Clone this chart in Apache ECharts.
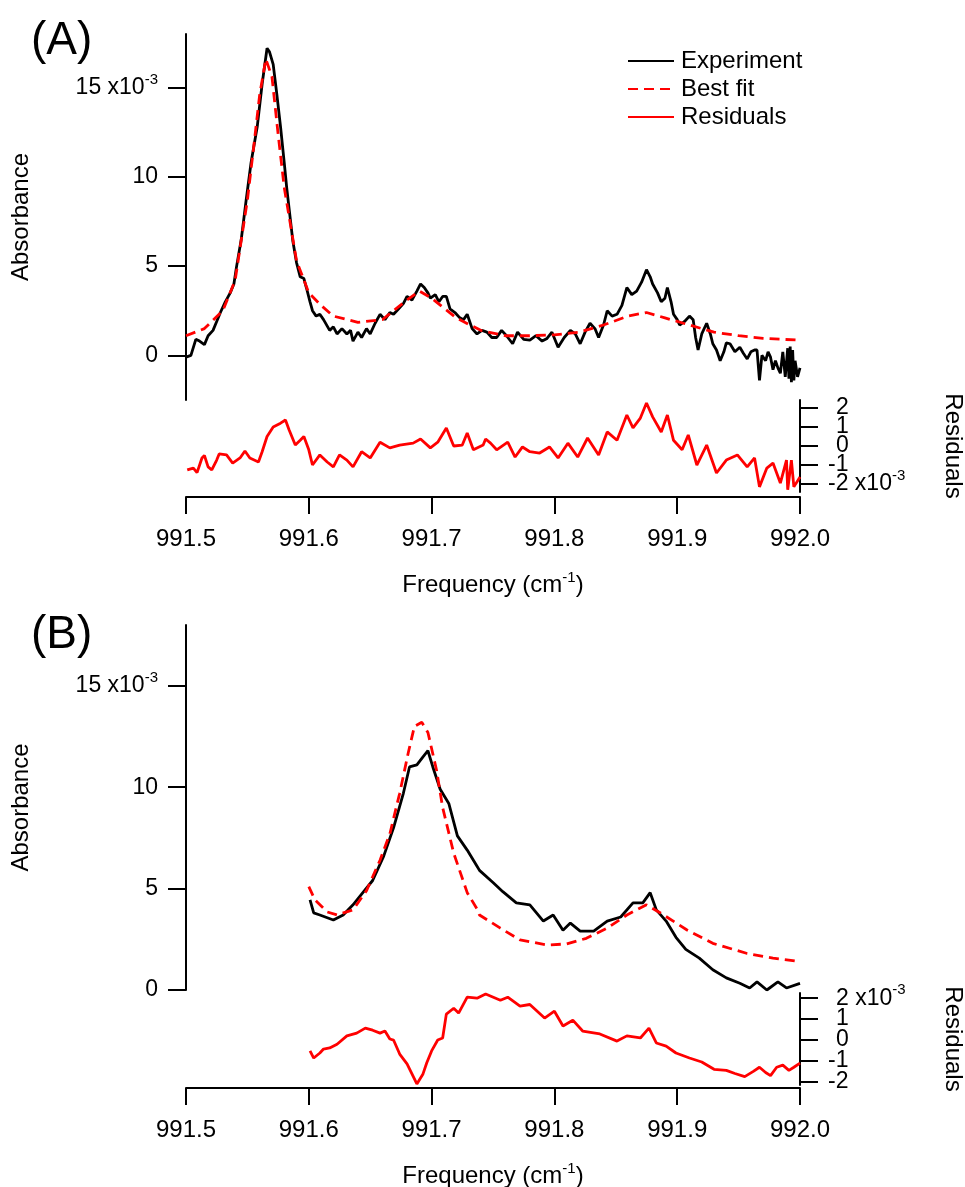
<!DOCTYPE html>
<html><head><meta charset="utf-8">
<script src="https://cdn.jsdelivr.net/npm/echarts@6/dist/echarts.min.js"></script>
<style>html,body{margin:0;padding:0;background:#fff}#c{width:965px;height:1187px}</style>
</head><body><div id="c"></div>
<script>
// ---------------- DATA ----------------
const absTicks = [0, 5, 10, 15];          // x10^-3
const resTicks = [-2, -1, 0, 1, 2];       // x10^-3
const legendNames = ['Experiment', 'Best fit', 'Residuals'];

// Panel A — experiment
const freqA_exp = [991.500,991.504,991.508,991.511,991.515,991.518,991.522,991.525,991.528,991.532,991.536,991.539,991.541,991.545,991.549,991.553,991.558,991.562,991.566,991.568,991.571,991.574,991.577,991.580,991.582,991.585,991.587,991.590,991.593,991.596,991.598,991.601,991.603,991.606,991.609,991.612,991.617,991.620,991.623,991.627,991.631,991.634,991.636,991.640,991.643,991.647,991.650,991.654,991.658,991.662,991.666,991.669,991.673,991.677,991.680,991.684,991.688,991.691,991.694,991.697,991.699,991.703,991.706,991.709,991.712,991.715,991.719,991.723,991.726,991.729,991.733,991.737,991.741,991.745,991.749,991.753,991.757,991.761,991.766,991.770,991.775,991.780,991.785,991.790,991.794,991.798,991.803,991.808,991.813,991.817,991.821,991.825,991.829,991.833,991.836,991.840,991.843,991.847,991.851,991.855,991.859,991.863,991.867,991.871,991.875,991.878,991.880,991.884,991.887,991.890,991.892,991.895,991.897,991.900,991.902,991.906,991.910,991.913,991.915,991.917,991.920,991.924,991.927,991.929,991.932,991.935,991.938,991.940,991.943,991.947,991.951,991.954,991.957,991.960,991.963,991.965,991.967,991.969,991.972,991.974,991.976,991.978,991.980,991.982,991.984,991.986,991.988,991.990,991.991,991.992,991.993,991.994,991.995,991.996,991.998,992.000];
const absA_exp = [-0.1,0.0,0.9,0.8,0.6,1.1,1.4,1.9,2.4,3.0,3.5,4.0,4.9,6.5,8.7,10.8,12.8,15.2,17.2,17.0,16.3,14.6,12.8,10.8,9.4,7.6,6.4,5.2,4.4,4.3,3.8,3.0,2.5,2.2,2.3,2.0,1.4,1.6,1.2,1.5,1.2,1.4,0.8,1.3,1.0,1.5,1.2,1.8,2.3,2.0,2.4,2.3,2.6,2.9,3.3,3.1,3.6,4.0,3.8,3.5,3.2,3.4,3.0,3.3,3.3,2.6,2.4,2.1,2.0,2.3,1.5,1.2,1.4,1.3,1.0,1.0,1.4,1.1,0.65,1.3,0.9,0.85,1.1,0.8,0.95,1.3,0.45,1.0,1.4,1.2,0.65,1.3,1.8,1.5,1.0,1.7,2.5,2.2,2.3,2.8,3.8,3.4,3.6,4.1,4.8,4.4,4.0,3.5,3.0,3.2,3.8,3.0,2.3,2.0,1.7,1.9,2.2,2.0,1.0,0.3,1.2,1.8,1.2,0.65,0.3,-0.3,0.2,0.7,0.65,0.2,0.45,0.1,-0.2,0.2,0.3,0.3,-1.4,0.0,-0.3,0.2,-0.1,-0.8,-0.3,-0.7,-1.0,0.2,-1.2,0.4,-1.3,0.5,-1.5,0.3,-1.4,-0.3,-1.2,-0.7];

// Panel A — best fit
const freqA_fit = [991.500,991.515,991.530,991.540,991.550,991.555,991.560,991.565,991.570,991.575,991.580,991.590,991.600,991.610,991.620,991.640,991.660,991.680,991.690,991.700,991.720,991.740,991.760,991.780,991.800,991.820,991.840,991.860,991.875,991.890,991.910,991.930,991.950,991.970,992.000];
const absA_fit = [1.1,1.5,2.5,4.2,8.7,11.6,14.6,16.6,15.6,12.4,9.4,5.3,3.5,2.8,2.2,1.85,2.0,3.1,3.6,3.2,2.1,1.4,1.1,1.1,1.15,1.3,1.7,2.2,2.4,2.1,1.7,1.3,1.1,0.95,0.85];

// Panel A — residuals
const freqA_res = [991.501,991.506,991.509,991.513,991.515,991.518,991.521,991.525,991.527,991.533,991.538,991.544,991.548,991.552,991.559,991.562,991.566,991.571,991.577,991.581,991.584,991.589,991.593,991.596,991.600,991.603,991.609,991.615,991.620,991.625,991.631,991.636,991.643,991.650,991.658,991.666,991.674,991.685,991.691,991.699,991.705,991.712,991.718,991.725,991.729,991.734,991.742,991.744,991.748,991.753,991.762,991.768,991.774,991.780,991.788,991.796,991.803,991.811,991.819,991.827,991.836,991.843,991.851,991.859,991.864,991.870,991.875,991.880,991.887,991.892,991.897,991.904,991.909,991.916,991.924,991.932,991.940,991.949,991.957,991.963,991.967,991.973,991.978,991.984,991.989,991.990,991.993,991.995,992.000];
const resA = [-1.26,-1.16,-1.4,-0.63,-0.5,-1.1,-1.26,-0.74,-0.42,-0.47,-0.9,-0.63,-0.26,-0.63,-0.84,-0.3,0.5,1.0,1.2,1.37,0.84,0.05,0.3,0.5,-0.2,-1.0,-0.47,-0.84,-1.1,-0.47,-0.74,-1.1,-0.3,-0.63,0.2,-0.1,0.05,0.15,0.37,-0.1,0.2,0.95,0.0,0.05,0.68,-0.2,0.05,0.37,0.15,-0.2,0.2,-0.58,-0.05,-0.3,-0.37,-0.05,-0.63,0.15,-0.58,0.42,-0.47,0.74,0.3,1.63,0.95,1.47,2.26,1.53,0.74,1.63,0.3,-0.2,0.58,-1.0,0.05,-1.42,-0.74,-0.47,-1.1,-0.63,-2.15,-1.16,-0.9,-1.95,-0.74,-2.3,-0.74,-2.15,-1.63];

// Panel B — experiment
const freqB_exp = [991.601,991.604,991.609,991.620,991.628,991.636,991.644,991.652,991.661,991.669,991.677,991.682,991.688,991.693,991.697,991.701,991.707,991.714,991.721,991.729,991.737,991.739,991.750,991.758,991.769,991.780,991.791,991.799,991.807,991.813,991.821,991.832,991.843,991.854,991.864,991.872,991.878,991.883,991.891,991.899,991.907,991.918,991.929,991.940,991.951,991.959,991.965,991.973,991.982,991.989,992.000];
const absB_exp = [4.44,3.8,3.7,3.45,3.7,4.2,4.8,5.4,6.6,8.0,9.7,11.0,11.1,11.5,11.8,11.0,9.9,9.2,7.6,6.9,6.1,5.9,5.3,4.85,4.3,4.2,3.4,3.7,2.95,3.3,2.9,2.9,3.4,3.6,4.3,4.3,4.8,3.95,3.4,2.6,2.0,1.57,1.0,0.6,0.33,0.1,0.4,0.0,0.4,0.1,0.33];

// Panel B — best fit
const freqB_fit = [991.600,991.605,991.615,991.623,991.636,991.647,991.658,991.666,991.674,991.681,991.686,991.692,991.697,991.704,991.709,991.718,991.729,991.737,991.739,991.756,991.772,991.794,991.810,991.826,991.843,991.859,991.875,991.889,991.908,991.929,991.957,991.978,992.000];
const absB_fit = [5.1,4.44,3.85,3.7,3.95,4.9,6.4,7.7,9.7,11.7,13.0,13.2,12.7,10.85,9.0,6.75,4.8,4.0,3.7,3.05,2.47,2.22,2.27,2.55,3.05,3.7,4.2,3.7,2.96,2.3,1.8,1.57,1.4];

// Panel B — residuals
const freqB_res = [991.601,991.604,991.609,991.612,991.617,991.623,991.631,991.639,991.646,991.652,991.658,991.662,991.666,991.669,991.674,991.680,991.684,991.688,991.693,991.696,991.700,991.705,991.709,991.712,991.718,991.722,991.729,991.737,991.744,991.756,991.762,991.772,991.780,991.792,991.800,991.807,991.815,991.823,991.837,991.851,991.859,991.870,991.877,991.883,991.891,991.899,991.910,991.920,991.930,991.940,991.947,991.955,991.962,991.967,991.972,991.976,991.981,991.986,991.991,991.995,992.000];
const resB = [-0.52,-0.86,-0.62,-0.43,-0.38,-0.2,0.2,0.33,0.57,0.47,0.33,0.43,0.05,0.0,-0.67,-1.14,-1.62,-2.1,-1.62,-1.1,-0.52,0.0,0.1,1.24,1.52,1.29,2.05,2.0,2.2,1.9,2.05,1.62,1.7,1.05,1.38,0.67,0.95,0.43,0.29,-0.05,0.2,0.1,0.57,-0.14,-0.29,-0.62,-0.86,-1.05,-1.4,-1.45,-1.6,-1.75,-1.5,-1.3,-1.55,-1.7,-1.3,-1.2,-1.45,-1.3,-1.1];

// ---------------- CHART ----------------
const FONT = '"Liberation Sans", Arial, Helvetica, sans-serif';
const RED = '#ff0000', BLACK = '#000000';
const pairs = (xs, ys) => xs.map((x, i) => [x, ys[i]]);

const supStyle = { fontSize: 15, fontFamily: FONT, color: BLACK, padding: [0, 0, 16, 0] };
const lineAxis = { show: true, onZero: false, lineStyle: { color: BLACK, width: 2 } };
const tickOut = (vals, len) => ({ show: true, inside: false, length: len, lineStyle: { color: BLACK, width: 2 }, customValues: vals });

function mainY(gridIdx, min, max) {
  return {
    gridIndex: gridIdx, type: 'value', min: min, max: max, position: 'left',
    splitLine: { show: false }, axisLine: lineAxis,
    axisTick: tickOut(absTicks, 18),
    axisLabel: {
      customValues: absTicks, margin: 28, color: BLACK, fontSize: 23, fontFamily: FONT,
      hideOverlap: false, showMinLabel: true, showMaxLabel: true,
      formatter: v => v === 15 ? '15 x10{sup|-3}' : String(v),
      rich: { sup: supStyle }
    },
    name: 'Absorbance', nameLocation: 'middle', nameRotate: 90, nameGap: 153, nameMoveOverlap: false,
    nameTextStyle: { fontSize: 24, fontFamily: FONT, color: BLACK }
  };
}
// residual axis drawn as two overlaid axes: one with line + ticks, one with labels only
function resTickY(gridIdx, min, max) {
  return {
    gridIndex: gridIdx, type: 'value', min: min, max: max, position: 'right',
    splitLine: { show: false }, axisLine: lineAxis,
    axisTick: tickOut(resTicks, 18),
    axisLabel: { show: false },
    name: 'Residuals', nameLocation: 'middle', nameRotate: -90, nameGap: 141, nameMoveOverlap: false,
    nameTextStyle: { fontSize: 24, fontFamily: FONT, color: BLACK }
  };
}
function resLabelY(gridIdx, min, max, expoAt) {
  return {
    gridIndex: gridIdx, type: 'value', min: min, max: max, position: 'right',
    splitLine: { show: false }, axisLine: { show: false, onZero: false }, axisTick: { show: false },
    axisLabel: {
      customValues: [min].concat(resTicks, [max]), margin: 28, color: BLACK, fontSize: 23, fontFamily: FONT,
      align: 'left', hideOverlap: false, showMinLabel: false, showMaxLabel: false,
      formatter: v => {
        if (resTicks.indexOf(v) < 0) return ' ';
        const base = v < 0 ? '{n|' + v + '}' : '{q|' + v + '}';
        return v === expoAt ? base + '{n| x10}{sup|-3}' : base;
      },
      rich: {
        n: { fontSize: 23, fontFamily: FONT, color: BLACK },
        q: { fontSize: 23, fontFamily: FONT, color: BLACK, padding: [0, 0, 0, 8] },
        sup: supStyle
      }
    }
  };
}
function freqX(gridIdx, visible, offset) {
  return {
    gridIndex: gridIdx, type: 'value', min: 991.5, max: 992.0, interval: 0.1, show: visible,
    position: 'bottom', offset: offset, splitLine: { show: false },
    axisLine: lineAxis,
    axisTick: { show: true, inside: false, length: 17, lineStyle: { color: BLACK, width: 2 } },
    axisLabel: { margin: 30, color: BLACK, fontSize: 24, fontFamily: FONT, formatter: v => v.toFixed(1),
      hideOverlap: false, showMinLabel: true, showMaxLabel: true },
    name: 'Frequency (cm{sup|-1})', nameLocation: 'middle', nameGap: 73, nameMoveOverlap: false,
    nameTextStyle: { fontSize: 24, fontFamily: FONT, color: BLACK,
      rich: { sup: { fontSize: 15, fontFamily: FONT, color: BLACK, padding: [0, 0, 16, 0] } } }
  };
}
function ln(name, xi, yi, data, color, dashed) {
  return {
    name: name, type: 'line', xAxisIndex: xi, yAxisIndex: yi, data: data,
    symbol: 'none', showSymbol: false, smooth: false, clip: true,
    itemStyle: { color: color },
    lineStyle: { color: color, width: 2.8, type: dashed ? [10, 6] : 'solid' }
  };
}

const chart = echarts.init(document.getElementById('c'), null, { renderer: 'canvas' });
chart.setOption({
  animation: false,
  backgroundColor: '#ffffff',
  title: [
    { text: '(A)', left: 26, top: 13, textStyle: { fontSize: 46, fontWeight: 'normal', fontFamily: FONT, color: BLACK } },
    { text: '(B)', left: 26, top: 607, textStyle: { fontSize: 46, fontWeight: 'normal', fontFamily: FONT, color: BLACK } }
  ],
  legend: {
    data: legendNames, orient: 'vertical', left: 622, top: 44,
    itemWidth: 46, itemHeight: 14, itemGap: 4,
    itemStyle: { opacity: 0 },
    textStyle: { fontSize: 24, fontFamily: FONT, color: BLACK, lineHeight: 24, padding: [0, 0, 0, 2] }
  },
  grid: [
    { left: 186, width: 614, top: 34, height: 366, outerBoundsMode: 'none' },
    { left: 186, width: 614, top: 400, height: 92, outerBoundsMode: 'none' },
    { left: 186, width: 614, top: 625, height: 365, outerBoundsMode: 'none' },
    { left: 186, width: 614, top: 993, height: 92, outerBoundsMode: 'none' }
  ],
  xAxis: [freqX(0, false, 0), freqX(1, true, 5), freqX(2, false, 0), freqX(3, true, 3)],
  yAxis: [
    mainY(0, -2.5, 18), resTickY(1, -2.42, 2.42), mainY(2, 0, 18), resTickY(3, -2.15, 2.25),
    resLabelY(1, -2.42, 2.42, -2), resLabelY(3, -2.15, 2.25, 2)
  ],
  series: [
    ln('Experiment', 0, 0, pairs(freqA_exp, absA_exp), BLACK, false),
    ln('Best fit', 0, 0, pairs(freqA_fit, absA_fit), RED, true),
    ln('Residuals', 1, 1, pairs(freqA_res, resA), RED, false),
    ln('Experiment', 2, 2, pairs(freqB_exp, absB_exp), BLACK, false),
    ln('Best fit', 2, 2, pairs(freqB_fit, absB_fit), RED, true),
    ln('Residuals', 3, 3, pairs(freqB_res, resB), RED, false)
  ]
});
</script></body></html>
